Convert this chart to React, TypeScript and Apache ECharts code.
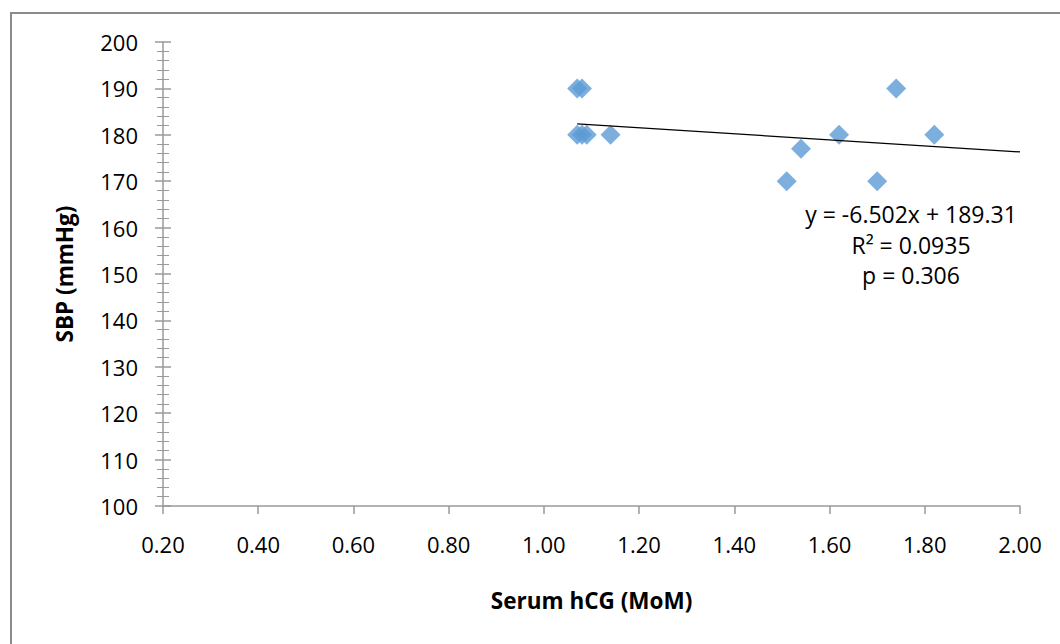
import React, { useEffect, useRef } from "react";
import * as echarts from "echarts";

const xValues: number[] = [1.07, 1.08, 1.07, 1.08, 1.09, 1.14, 1.62, 1.82, 1.51, 1.70, 1.54, 1.74];
const yValues: number[] = [190, 190, 180, 180, 180, 180, 180, 180, 170, 170, 177, 190];
const trendX: number[] = [1.07, 2.0];
const trendY: number[] = [182.35, 176.31];
const annotation: string[] = ["y = -6.502x + 189.31", "R² = 0.0935", "p = 0.306"];
const xAxisTitle = "Serum hCG (MoM)";
const yAxisTitle = "SBP (mmHg)";

const FONT = "'Open Sans', sans-serif";

export default function App() {
  const ref = useRef<HTMLDivElement>(null);
  useEffect(() => {
    if (!ref.current) return;
    const chart = echarts.init(ref.current, null, { renderer: "svg" });
    const points = xValues.map((x, i) => [x, yValues[i]]);
    const trend = trendX.map((x, i) => [x, trendY[i]]);
    const tickColor = "#9a9a9a";
    chart.setOption({
      animation: false,
      backgroundColor: "#ffffff",
      grid: { left: 163, right: 40, top: 42, bottom: 138, containLabel: false },
      xAxis: {
        type: "value",
        min: 0.2,
        max: 2.0,
        interval: 0.2,
        splitLine: { show: false },
        axisLine: { show: true, lineStyle: { color: tickColor, width: 1.5 } },
        axisTick: { show: true, length: 8, lineStyle: { color: tickColor, width: 1.5 } },
        axisLabel: {
          margin: 27,
          color: "#000",
          fontSize: 22,
          fontFamily: FONT,
          formatter: (v: number) => v.toFixed(2),
        },
        name: xAxisTitle,
        nameLocation: "middle",
        nameGap: 83,
        nameTextStyle: { color: "#000", fontSize: 22.5, fontWeight: "bold", fontFamily: FONT },
      },
      yAxis: [
        {
          type: "value",
          min: 100,
          max: 200,
          interval: 10,
          splitLine: { show: false },
          axisLine: { show: true, lineStyle: { color: tickColor, width: 1.5 } },
          axisTick: { show: true, length: 8, lineStyle: { color: tickColor, width: 1.5 } },
          minorTick: { show: true, splitNumber: 5, length: 6, lineStyle: { color: tickColor, width: 1 } },
          axisLabel: { margin: 25, color: "#000", fontSize: 22, fontFamily: FONT },
          name: yAxisTitle,
          nameLocation: "middle",
          nameGap: 87,
          nameTextStyle: { color: "#000", fontSize: 22.5, fontWeight: "bold", fontFamily: FONT },
        },
        {
          type: "value",
          position: "left",
          min: 100,
          max: 200,
          interval: 10,
          splitLine: { show: false },
          axisLine: { show: false },
          axisTick: { show: true, inside: true, length: 8, lineStyle: { color: tickColor, width: 1.5 } },
          minorTick: { show: true, splitNumber: 5, length: 6, lineStyle: { color: tickColor, width: 1 } },
          axisLabel: { show: false },
        },
      ],
      graphic: [
        {
          type: "rect",
          shape: { x: 11, y: 13, width: 1070, height: 660 },
          style: { fill: "none", stroke: "#8a8a8a", lineWidth: 2 },
          silent: true,
        },
        {
          type: "text",
          x: 911,
          y: 199,
          style: {
            text: annotation.join("\n"),
            align: "center",
            verticalAlign: "top",
            lineHeight: 30.5,
            fontSize: 23,
            fontFamily: FONT,
            fill: "#000",
          },
          silent: true,
        },
      ],
      series: [
        {
          type: "line",
          data: trend,
          showSymbol: false,
          symbol: "none",
          lineStyle: { color: "#000", width: 1.2 },
          z: 3,
        },
        {
          type: "scatter",
          data: points,
          symbol: "diamond",
          symbolSize: 20,
          itemStyle: { color: "#5b9bd5" },
          z: 2,
        },
      ],
    });
    return () => chart.dispose();
  }, []);
  return (
    <div
      ref={ref}
      style={{ position: "absolute", left: 0, top: 0, width: 1060, height: 644 }}
    />
  );
}
